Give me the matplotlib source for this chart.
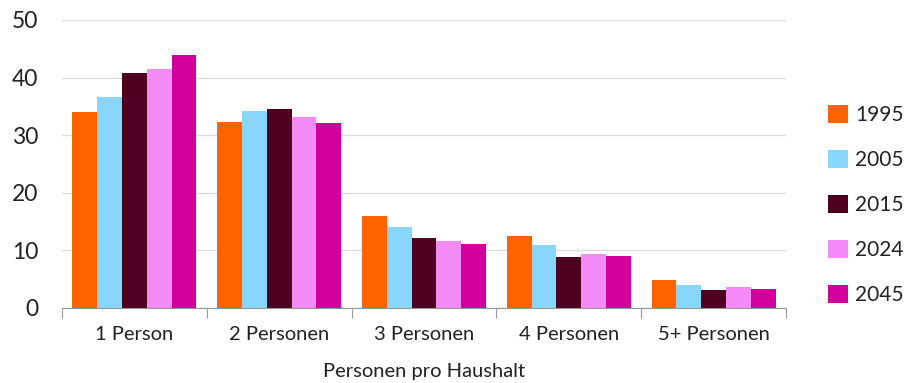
import matplotlib
matplotlib.use("Agg")
import matplotlib.pyplot as plt
import numpy as np
from matplotlib.patches import Patch

categories = ["1 Person", "2 Personen", "3 Personen", "4 Personen", "5+ Personen"]
years = ["1995", "2005", "2015", "2024", "2045"]
v1995 = [34.1, 32.3, 16.0, 12.5, 4.8]
v2005 = [36.6, 34.2, 14.1, 10.9, 4.0]
v2015 = [40.8, 34.5, 12.1, 8.9, 3.2]
v2024 = [41.5, 33.2, 11.7, 9.4, 3.6]
v2045 = [43.9, 32.2, 11.1, 9.1, 3.3]
series = [v1995, v2005, v2015, v2024, v2045]
colors = ["#FF6200", "#89D6FD", "#4F0020", "#F58AF9", "#D1009A"]

plt.rcParams['font.family'] = ['Lato', 'DejaVu Sans']

fig = plt.figure(figsize=(9.12, 3.83), dpi=100)
ax = fig.add_axes([62/912, 1-308/383, (786-62)/912, (308-20)/383])

x = np.arange(len(categories))
bw = 0.171
for i, (vals, c) in enumerate(zip(series, colors)):
    ax.bar(x + (i - 2) * bw, vals, width=bw, color=c, zorder=3, linewidth=0)

ax.set_xlim(-0.5, len(categories) - 0.5)
ax.set_ylim(0, 50)
ax.set_yticks([0, 10, 20, 30, 40, 50])
ax.yaxis.grid(True, color="#DDDDDD", linewidth=1)
ax.set_axisbelow(True)
for s in ["left", "right", "top"]:
    ax.spines[s].set_visible(False)
ax.spines["bottom"].set_color("#999999")
ax.tick_params(axis="y", length=0, labelsize=16.5, colors="#222222", pad=17)
ax.set_xticks(np.arange(-0.5, len(categories)), minor=False)
ax.set_xticklabels([])
ax.tick_params(axis="x", which="major", length=7, color="#999999", direction="out")
ax.set_xticks(x, minor=True)
ax.set_xticklabels(categories, minor=True)
ax.tick_params(axis="x", which="minor", length=0, labelsize=14.5, colors="#222222", pad=13)
ax.set_xlabel("Personen pro Haushalt", fontsize=14.5, color="#222222", labelpad=14)

handles = [Patch(facecolor=c, edgecolor="none") for c in colors]
leg = fig.legend(handles, years, loc="center left", bbox_to_anchor=(820/912, 1-205/383),
                 frameon=False, fontsize=15, handlelength=0.95, handleheight=0.95,
                 handletextpad=0.35, labelspacing=1.2, borderaxespad=0)
for t in leg.get_texts():
    t.set_color("#222222")

fig.savefig("out.png", dpi=100)
